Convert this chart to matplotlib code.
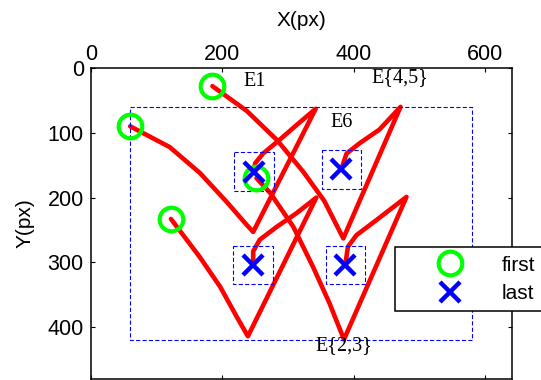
import matplotlib
matplotlib.use("Agg")
import matplotlib.pyplot as plt
from matplotlib.patches import Rectangle

plt.rcParams["font.family"] = ["Liberation Sans", "DejaVu Sans"]
plt.rcParams["lines.scale_dashes"] = False

# Tracked trajectories in image pixel coordinates (x right, y down)
traj_a_x = [60, 120, 166, 207, 237, 247, 342, 313, 287, 262, 250, 248]
traj_a_y = [90, 122, 162, 207, 242, 253, 63, 88, 111, 132, 147, 160]

traj_b_x = [185, 237, 283, 323, 355, 384, 471, 439, 409, 389, 381]
traj_b_y = [28, 66, 111, 160, 205, 263, 60, 95, 116, 132, 156]

traj_c_x = [122, 166, 197, 222, 239, 343, 313, 283, 257, 247, 247]
traj_c_y = [233, 292, 338, 384, 414, 200, 224, 245, 265, 283, 304]

traj_d_x = [252, 273, 308, 338, 363, 385, 480, 434, 404, 391, 387]
traj_d_y = [170, 193, 245, 307, 363, 419, 199, 235, 258, 276, 304]

trajectories = [(traj_a_x, traj_a_y), (traj_b_x, traj_b_y),
                (traj_c_x, traj_c_y), (traj_d_x, traj_d_y)]

# Region of interest [x0, y0, x1, y1] and search-window size around end points
roi = [60, 60, 580, 420]
window = 60

# Event labels
event_text = ["E1", "E6", "E{4,5}", "E{2,3}"]
event_x = [232, 364, 427, 341]
event_y = [21, 84, 15, 429]

x_ticks = [0, 200, 400, 600]
y_ticks = [0, 100, 200, 300, 400]
x_range = [0, 640]
y_range = [480, 0]

fig = plt.figure(figsize=(5.41, 3.80), dpi=100)
ax = fig.add_axes([90.7 / 541, 1 - 379 / 380, 421 / 541, 311 / 380])

for tx, ty in trajectories:
    ax.plot(tx, ty, color=(1, 0, 0), lw=3.3, solid_joinstyle="round",
            solid_capstyle="round", zorder=2)

# Region of interest
ax.add_patch(Rectangle((roi[0], roi[1]), roi[2] - roi[0], roi[3] - roi[1],
                       fill=False, edgecolor=(0, 0, 1), lw=0.8,
                       linestyle=(0, (3, 1.6)), zorder=3))

# Search windows around the last positions
for tx, ty in trajectories:
    ax.add_patch(Rectangle((tx[-1] - window / 2, ty[-1] - window / 2),
                           window, window, fill=False, edgecolor=(0, 0, 1),
                           lw=0.8, linestyle=(0, (3, 1.6)), zorder=3))

first_x = [t[0][0] for t in trajectories]
first_y = [t[1][0] for t in trajectories]
last_x = [t[0][-1] for t in trajectories]
last_y = [t[1][-1] for t in trajectories]

h_first, = ax.plot(first_x, first_y, linestyle="none", marker="o", ms=17,
                   mfc="none", mec=(0, 1, 0), mew=3.0, zorder=4, label="first")
h_last, = ax.plot(last_x, last_y, linestyle="none", marker="x", ms=14,
                  mec=(0, 0, 1), mew=3.2, zorder=5, label="last")

for s, x, y in zip(event_text, event_x, event_y):
    ax.text(x, y, s, fontsize=14.5, family=["Liberation Serif", "DejaVu Serif"],
            ha="left", va="center", zorder=6)

ax.set_xlim(x_range)
ax.set_ylim(y_range)
ax.set_xticks(x_ticks)
ax.set_yticks(y_ticks)
ax.xaxis.tick_top()
ax.tick_params(axis="both", which="both", direction="in", length=3,
               width=0.8, top=True, bottom=True, left=True, right=True,
               labeltop=True, labelbottom=False, labelsize=15.5)
ax.tick_params(axis="x", pad=2.5)
ax.tick_params(axis="y", pad=5)
for sp in ax.spines.values():
    sp.set_linewidth(1.1)

ax.set_xlabel("X(px)", fontsize=15)
ax.xaxis.set_label_position("top")
ax.xaxis.label.set_va("center")
ax.xaxis.set_label_coords(0.5, (379 - 20) / 311)
ax.set_ylabel("Y(px)", fontsize=15)
ax.yaxis.label.set_va("center")
ax.yaxis.set_label_coords((25 - 90.7) / 421, 0.5)

leg = fig.legend(handles=[h_first, h_last], loc="upper left",
                 bbox_to_anchor=(395 / 541, 1 - 247.3 / 380),
                 fontsize=15, frameon=True, fancybox=False, shadow=False,
                 borderpad=0.4, handlelength=4.5, handletextpad=0.2,
                 labelspacing=0.45, borderaxespad=0)
leg.get_frame().set_edgecolor("black")
leg.get_frame().set_linewidth(1.1)
leg.get_frame().set_alpha(1)

fig.savefig("out.png", dpi=100)
